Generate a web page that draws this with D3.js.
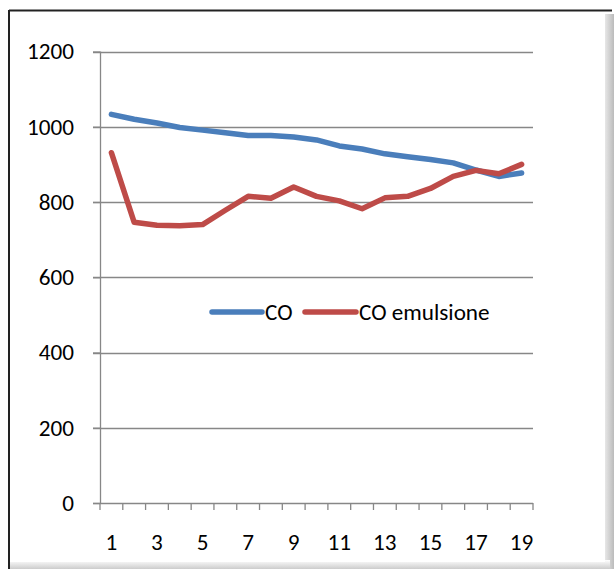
<!DOCTYPE html>
<html><head><meta charset="utf-8">
<script src="https://cdn.jsdelivr.net/npm/d3@7"></script>
<style>body{margin:0;background:#fff}svg{display:block}</style>
</head><body>
<script>
const categories = d3.range(1, 20);
const coValues = [1033, 1020, 1010, 998, 991, 984, 977, 977, 973, 965, 949, 941, 928, 920, 913, 904, 885, 868, 877];
const coEmulsione = [931, 746, 738, 737, 740, 778, 815, 810, 840, 815, 803, 782, 811, 815, 836, 868, 884, 875, 900];
const yTicks = [0, 200, 400, 600, 800, 1000, 1200];
const xTickLabels = [1, 3, 5, 7, 9, 11, 13, 15, 17, 19];
const seriesNames = ["CO", "CO emulsione"];
const colors = ["#4a7ebb", "#be4b48"];

(function () {
const W = 615, H = 569;
const svg = d3.select("body").append("svg").attr("width", W).attr("height", H);
const font = "Carlito, Lato, 'Open Sans', sans-serif";

// size the font so that "1200" is ~47px wide, as in the reference
const probe = svg.append("text").attr("font-family", font).attr("font-size", 100).text("1200");
const pw = probe.node().getComputedTextLength();
probe.remove();
const fs = pw > 0 ? Math.min(26, Math.max(18, 47 / pw * 100)) : 23;

// frame with shadow
const defs = svg.append("defs");
const g1 = defs.append("linearGradient").attr("id", "shr");
g1.append("stop").attr("offset", "0").attr("stop-color", "#fff");
g1.append("stop").attr("offset", "1").attr("stop-color", "#bbb");
svg.append("rect").attr("x", 600).attr("y", 14).attr("width", 14).attr("height", 555).attr("fill", "url(#shr)");
const g2 = defs.append("linearGradient").attr("id", "shb").attr("x1", 0).attr("y1", 0).attr("x2", 0).attr("y2", 1);
g2.append("stop").attr("offset", "0").attr("stop-color", "#fff");
g2.append("stop").attr("offset", "1").attr("stop-color", "#ccc");
svg.append("rect").attr("x", 10).attr("y", 560).attr("width", 600).attr("height", 9).attr("fill", "url(#shb)");
svg.append("rect").attr("x", 9).attr("y", 10).attr("width", 596).attr("height", 552).attr("fill", "#fff");
svg.append("line").attr("x1", 9).attr("x2", 612).attr("y1", 10.5).attr("y2", 10.5).attr("stroke", "#222").attr("stroke-width", 2);
svg.append("line").attr("x1", 9).attr("x2", 9).attr("y1", 10).attr("y2", 569).attr("stroke", "#222").attr("stroke-width", 2);

const pLeft = 100, pRight = 533, pTop = 51.5, pBottom = 503;
const x = d3.scaleBand().domain(categories).range([pLeft, pRight]);
const y = d3.scaleLinear().domain([0, 1200]).range([pBottom, pTop]);

// gridlines
svg.append("g").selectAll("line").data(yTicks.filter(d => d > 0)).join("line")
  .attr("x1", pLeft - 7).attr("x2", pRight).attr("y1", d => Math.round(y(d)) + 0.5).attr("y2", d => Math.round(y(d)) + 0.5)
  .attr("stroke", "#878787").attr("stroke-width", 1.3);

// y axis
const yAxis = svg.append("g").attr("transform", `translate(${pLeft},0)`)
  .call(d3.axisLeft(y).tickValues(yTicks).tickSize(7).tickPadding(19).tickFormat(d3.format("d")));
yAxis.select(".domain").attr("stroke", "#878787").attr("stroke-width", 1.3).attr("d", `M0.5,${pBottom}V${pTop}`);
yAxis.selectAll(".tick line").attr("stroke", "#878787").attr("stroke-width", 1.3);
yAxis.selectAll("text").attr("font-family", font).attr("font-size", fs).attr("fill", "#000");

// x axis
const xAxis = svg.append("g").attr("transform", `translate(0,${Math.round(pBottom) + 0.5})`)
  .call(d3.axisBottom(x).tickSize(0).tickPadding(30).tickFormat(d => xTickLabels.includes(d) ? d : ""));
xAxis.select(".domain").attr("stroke", "#878787").attr("stroke-width", 1.3).attr("d", `M${pLeft - 7},0H${pRight}`);
xAxis.selectAll("text").attr("font-family", font).attr("font-size", fs).attr("fill", "#000");
// category boundary ticks
svg.append("g").selectAll("line").data(d3.range(categories.length + 1)).join("line")
  .attr("x1", i => pLeft + i * x.step()).attr("x2", i => pLeft + i * x.step())
  .attr("y1", pBottom).attr("y2", pBottom + 7)
  .attr("stroke", "#878787").attr("stroke-width", 1.3);

// lines
const line = d3.line().x((d, i) => x(categories[i]) + x.bandwidth() / 2).y(d => y(d));
[coValues, coEmulsione].forEach((s, k) => {
  svg.append("path").datum(s).attr("d", line).attr("fill", "none")
    .attr("stroke", colors[k]).attr("stroke-width", 5.5).attr("stroke-linejoin", "round").attr("stroke-linecap", "round");
});

// legend
const lg = svg.append("g");
const legItems = [{x0: 212, x1: 262, tx: 265}, {x0: 305, x1: 356, tx: 359}];
legItems.forEach((p, k) => {
  lg.append("line").attr("x1", p.x0).attr("x2", p.x1).attr("y1", 312).attr("y2", 312)
    .attr("stroke", colors[k]).attr("stroke-width", 5.5).attr("stroke-linecap", "round");
  lg.append("text").attr("x", p.tx).attr("y", 320).attr("font-family", font).attr("font-size", fs)
    .attr("fill", "#000").text(seriesNames[k]);
});
})();
</script>
</body></html>
